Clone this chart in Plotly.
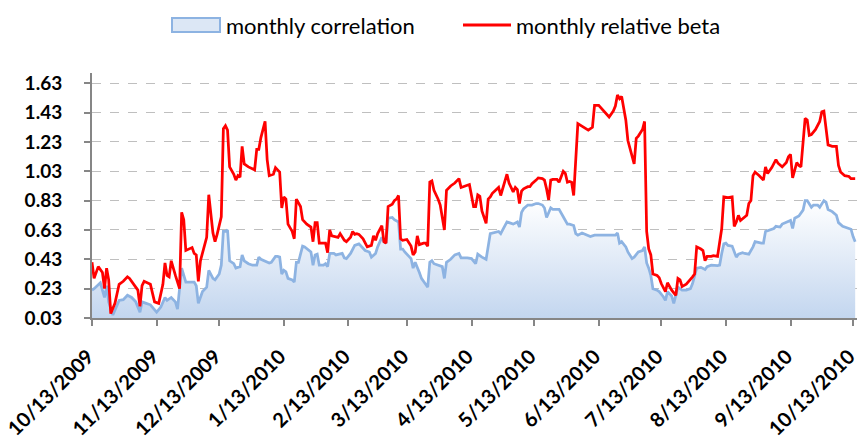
import pandas as pd
import plotly.graph_objects as go

# ---- data (days since 10/13/2009) ----
corr_days = [0, 1, 4, 5, 6, 7, 8, 10, 11, 13, 15, 17, 19, 21, 23, 24, 26, 28, 31, 33, 35, 36, 38, 40, 41, 43, 45, 47, 49, 50,
             51, 53, 55, 56, 58, 59, 61, 62, 63, 64, 65, 66, 68, 69, 71, 72, 73, 75, 77, 79, 80, 81, 83, 85, 86, 88, 89, 90,
             91, 92, 93, 94, 96, 97, 98, 99, 101, 102, 105, 106, 107, 108, 109, 111, 112, 113, 114, 116, 117, 118, 120, 121,
             122, 124, 126, 128, 129, 131, 133, 134, 136, 137, 139, 140, 141, 142, 144, 145, 147, 148, 149, 150, 152, 153,
             154, 155, 157, 158, 160, 161, 162, 163, 164, 166, 168, 169, 170, 172, 174, 176, 177, 180, 182, 184, 185, 187,
             189, 191, 193, 195, 196, 199, 200, 202, 204, 205, 206, 207, 209, 211, 213, 214, 216, 217, 218, 220, 221, 224,
             226, 228, 229, 231, 232, 233, 235, 237, 239, 241, 244, 247, 249, 251, 252, 253, 254, 256, 257, 259, 260, 261,
             262, 264, 265, 266, 267, 268, 269, 271, 272, 274, 275, 276, 278, 279, 281, 282, 283, 285, 287, 288, 290, 292,
             294, 295, 297, 300, 301, 302, 303, 304, 305, 307, 309, 310, 312, 313, 315, 317, 318, 321, 322, 323, 325, 327,
             328, 330, 331, 333, 335, 336, 337, 339, 341, 342, 343, 345, 346, 348, 349, 351, 352, 353, 355, 357, 358, 360,
             362, 364, 365, 366]
corr = [0.22, 0.23, 0.27, 0.22, 0.17, 0.25, 0.14, 0.05, 0.08, 0.15, 0.155, 0.185, 0.17, 0.14, 0.07, 0.14, 0.13, 0.12, 0.07,
        0.105, 0.17, 0.15, 0.17, 0.14, 0.09, 0.37, 0.275, 0.275, 0.275, 0.25,
        0.13, 0.21, 0.24, 0.355, 0.30, 0.29, 0.33, 0.39, 0.62, 0.62, 0.63, 0.42, 0.40, 0.37, 0.38, 0.46, 0.42, 0.40, 0.39,
        0.39, 0.445, 0.43, 0.42, 0.405, 0.41, 0.45, 0.45, 0.445,
        0.33, 0.355, 0.345, 0.30, 0.29, 0.275, 0.41, 0.41, 0.52, 0.515, 0.48, 0.39, 0.46, 0.465, 0.39, 0.39, 0.40, 0.38,
        0.47, 0.47, 0.46, 0.465, 0.47, 0.44,
        0.435, 0.47, 0.525, 0.535, 0.52, 0.49, 0.48, 0.445, 0.47, 0.515, 0.58, 0.55, 0.54, 0.71, 0.715, 0.70, 0.685, 0.50,
        0.50, 0.48, 0.45, 0.435,
        0.37, 0.41, 0.34, 0.30, 0.26, 0.24, 0.41, 0.42, 0.40, 0.39, 0.38, 0.30, 0.41, 0.43, 0.46, 0.47, 0.44, 0.44, 0.435,
        0.40, 0.465, 0.445,
        0.43, 0.605, 0.615, 0.62, 0.605, 0.685, 0.68, 0.67, 0.685, 0.65, 0.75, 0.775, 0.80, 0.80, 0.81, 0.81, 0.80, 0.78,
        0.715, 0.78, 0.77, 0.77,
        0.72, 0.67, 0.67, 0.66, 0.605, 0.595, 0.61, 0.60, 0.585, 0.595, 0.595, 0.59, 0.595, 0.595, 0.61, 0.54, 0.55, 0.515,
        0.48, 0.435, 0.445, 0.465,
        0.48, 0.49, 0.515, 0.405, 0.37, 0.32, 0.23, 0.22, 0.21, 0.175, 0.15, 0.21, 0.18, 0.13, 0.24, 0.23, 0.22, 0.22, 0.23,
        0.265, 0.37, 0.375,
        0.36, 0.38, 0.39, 0.387, 0.39, 0.47, 0.535, 0.54, 0.525, 0.52, 0.445, 0.465, 0.475, 0.47, 0.465, 0.515, 0.55, 0.54,
        0.54, 0.62, 0.63, 0.64,
        0.655, 0.65, 0.67, 0.68, 0.695, 0.64, 0.71, 0.725, 0.765, 0.83, 0.83, 0.785, 0.80, 0.80, 0.785, 0.83, 0.82, 0.77,
        0.755, 0.73, 0.68, 0.655,
        0.645, 0.635, 0.585, 0.55]

beta_days = [0, 1, 3, 5, 6, 7, 8, 9, 11, 13, 15, 17, 18, 20, 22, 23, 24, 25, 28, 29, 30, 32, 34, 35, 36, 37, 38, 40, 42, 43,
             44, 45, 47, 48, 49, 50, 51, 52, 55, 56, 58, 59, 60, 62, 63, 64, 65, 66, 68, 69, 70, 71, 72, 73, 75, 77, 78, 79,
             80, 81, 83, 84, 85, 87, 88, 89, 90, 91, 92, 93, 94, 96, 97, 98, 100, 101, 103, 105, 106, 107, 108, 109, 110,
             112, 113, 114, 115, 117, 118, 119, 121, 122, 124, 125, 126, 127, 128, 130, 132, 134, 135, 136, 137, 139, 140,
             141, 142, 144, 145, 146, 147, 148, 149, 151, 152, 153, 154, 155, 156, 157, 159, 160, 161, 162, 163, 164, 166,
             167, 169, 170, 172, 174, 176, 177, 179, 181, 183, 184, 185, 186, 187, 189, 190, 191, 192, 194, 195, 196, 197,
             199, 200, 202, 203, 204, 205, 206, 207, 209, 210, 211, 213, 214, 216, 217, 218, 219, 220, 221, 223, 224, 226,
             227, 228, 229, 230, 231, 233, 234, 237, 238, 240, 241, 243, 244, 246, 248, 250, 251, 252, 253, 254, 256, 257,
             259, 260, 261, 262, 264, 265, 266, 267, 268, 269, 271, 272, 273, 275, 276, 278, 280, 281, 282, 283, 285, 286,
             288, 289, 290, 292, 293, 294, 295, 297, 298, 300, 302, 303, 305, 307, 308, 309, 310, 311, 313, 314, 315, 316,
             317, 318, 320, 322, 323, 324, 326, 328, 329, 330, 331, 333, 334, 335, 336, 338, 339, 340, 342, 343, 344, 345,
             347, 349, 350, 351, 352, 353, 355, 357, 358, 359, 361, 363, 364, 365, 366]
beta = [0.41, 0.30, 0.38, 0.34, 0.23, 0.37, 0.29, 0.06, 0.13, 0.26, 0.28, 0.31, 0.30, 0.26, 0.22, 0.11, 0.25, 0.28, 0.26,
        0.20, 0.14, 0.13, 0.26, 0.405, 0.32, 0.31, 0.42, 0.32, 0.23, 0.75,
        0.70, 0.49, 0.50, 0.51, 0.47, 0.46, 0.28, 0.42, 0.58, 0.87, 0.61, 0.55, 0.60, 0.72, 1.32, 1.34, 1.31, 1.06, 1.01,
        0.97, 1.00, 0.99, 1.20, 1.08, 1.06, 1.05, 1.04, 1.18,
        1.18, 1.26, 1.37, 1.11, 1.00, 1.01, 1.055, 1.04, 1.025, 0.78, 0.855, 0.84, 0.67, 0.62, 0.57, 0.84, 0.79, 0.70,
        0.67, 0.65, 0.55, 0.68, 0.68, 0.54, 0.54,
        0.54, 0.475, 0.63, 0.59, 0.58, 0.58, 0.605, 0.56, 0.55, 0.58, 0.62, 0.60, 0.605, 0.60, 0.57, 0.515, 0.525, 0.59,
        0.56, 0.605, 0.66, 0.55,
        0.54, 0.79, 0.805, 0.83, 0.84, 0.865, 0.57, 0.56, 0.565, 0.54, 0.52, 0.46, 0.48, 0.59, 0.53, 0.54, 0.54, 0.52,
        0.957, 0.965, 0.90, 0.84,
        0.80, 0.63, 0.90, 0.93, 0.95, 0.98, 0.92, 0.93, 0.94, 0.79, 0.79, 0.87, 0.86, 0.76, 0.675, 0.84, 0.855, 0.88,
        0.91, 0.92, 0.865, 0.91,
        1.01, 0.95, 0.89, 0.92, 0.905, 0.81, 0.895, 0.91, 0.925, 0.925, 0.945, 0.97, 0.985, 0.98, 0.97, 0.91, 0.835, 0.97,
        0.975, 0.975, 0.955, 1.03,
        1.015, 0.955, 0.96, 0.955, 0.865, 1.355, 1.345, 1.32, 1.31, 1.33, 1.48, 1.48, 1.465, 1.435, 1.40, 1.44, 1.475,
        1.55, 1.525, 1.54, 1.38, 1.24,
        1.145, 1.08, 1.255, 1.27, 1.315, 1.37, 0.62, 0.50, 0.46, 0.33, 0.32, 0.305, 0.265, 0.21, 0.27, 0.22, 0.185, 0.30,
        0.29, 0.245, 0.26, 0.275,
        0.31, 0.33, 0.515, 0.50, 0.49, 0.42, 0.45, 0.45, 0.455, 0.45, 0.64, 0.855, 0.85, 0.855, 0.655, 0.685, 0.73, 0.695,
        0.715, 0.73, 0.81, 0.83,
        1.00, 1.025, 1.00, 0.97, 1.06, 1.015, 1.055, 1.11, 1.085, 1.07, 1.06, 1.09, 1.13, 1.145, 0.985, 1.09, 1.07, 1.06,
        1.39, 1.38, 1.275, 1.28,
        1.315, 1.37, 1.435, 1.44, 1.33, 1.21, 1.20, 1.20, 1.07, 1.025, 1.00, 0.995, 0.98, 0.98, 0.98]

tick_labels = ["10/13/2009", "11/13/2009", "12/13/2009", "1/13/2010", "2/13/2010", "3/13/2010", "4/13/2010",
               "5/13/2010", "6/13/2010", "7/13/2010", "8/13/2010", "9/13/2010", "10/13/2010"]
y_ticks = [0.03, 0.23, 0.43, 0.63, 0.83, 1.03, 1.23, 1.43, 1.63]
series_names = ["monthly correlation", "monthly relative beta"]

start = pd.Timestamp("2009-10-13")
corr_x = (start + pd.to_timedelta(corr_days, unit="D")).strftime("%Y-%m-%d").tolist()
beta_x = (start + pd.to_timedelta(beta_days, unit="D")).strftime("%Y-%m-%d").tolist()
tick_vals = pd.to_datetime(tick_labels, format="%m/%d/%Y").strftime("%Y-%m-%d").tolist()

FONT = "Lato"
W, H = 860, 443
ML, MR, MT, MB = 92, 3, 73, 125
PW, PH = W - ML - MR, H - MT - MB


def px_x(p):
    return (p - ML) / PW


def px_y(p):
    return 1 + (MT - p) / PH


BLUE = "#8DB3E2"
RED = "#FF0000"

fig = go.Figure()
fig.add_trace(go.Scatter(
    x=corr_x, y=corr, name=series_names[0], mode="lines",
    line=dict(color=BLUE, width=2.75),
    fill="tozeroy",
    fillgradient=dict(type="vertical", start=0.03, stop=0.83,
                      colorscale=[[0, "#C3D6EF"], [1, "#FFFFFF"]]),
    showlegend=False,
))
fig.add_trace(go.Scatter(
    x=beta_x, y=beta, name=series_names[1], mode="lines",
    line=dict(color=RED, width=2.75),
    showlegend=False,
))

# manual legend (swatches + labels)
shapes = [
    dict(type="rect", xref="paper", yref="paper",
         x0=px_x(172), x1=px_x(220), y0=px_y(32), y1=px_y(18),
         fillcolor="#DCE7F5", line=dict(color=BLUE, width=2)),
    dict(type="line", xref="paper", yref="paper",
         x0=px_x(463), x1=px_x(511), y0=px_y(25), y1=px_y(25),
         line=dict(color=RED, width=3)),
]
annotations = [
    dict(text=series_names[0], xref="paper", yref="paper", x=px_x(224), y=px_y(25),
         xanchor="left", yanchor="middle", showarrow=False,
         font=dict(family=FONT, size=22, color="black")),
    dict(text=series_names[1], xref="paper", yref="paper", x=px_x(514), y=px_y(25),
         xanchor="left", yanchor="middle", showarrow=False,
         font=dict(family=FONT, size=22, color="black")),
]

fig.update_layout(
    width=W, height=H,
    margin=dict(l=ML, r=MR, t=MT, b=MB),
    paper_bgcolor="white", plot_bgcolor="white",
    font=dict(family=FONT, color="black"),
    showlegend=False,
    shapes=shapes, annotations=annotations,
    xaxis=dict(
        type="date", automargin=False,
        range=["2009-10-13", "2010-10-14 21:00"],
        tickvals=tick_vals, ticktext=tick_labels, tickangle=-45,
        tickfont=dict(family=FONT, size=20, weight="bold", color="black"),
        ticklabelstandoff=11, ticklabelshift=-4, ticklabeloverflow="allow",
        showgrid=False, showline=True, linecolor="#868686", linewidth=2,
        ticks="outside", ticklen=6, tickcolor="#868686", tickwidth=2,
        zeroline=False,
    ),
    yaxis=dict(
        automargin=False,
        range=[0.03, 1.70],
        tickvals=y_ticks, ticktext=[f"{v:.2f}" for v in y_ticks],
        tickfont=dict(family=FONT, size=19, weight="bold", color="black"),
        ticklabelstandoff=18,
        showgrid=True, gridcolor="#BFBFBF", griddash="dash", gridwidth=1,
        showline=True, linecolor="#868686", linewidth=2,
        ticks="outside", ticklen=6, tickcolor="#868686", tickwidth=2,
        zeroline=False,
    ),
)

fig.write_html(
    "out.html",
    config={"displayModeBar": False},
    post_script="document.documentElement.style.margin='0';document.body.style.margin='0';"
                "document.body.style.padding='0';document.body.style.overflow='hidden';",
)
